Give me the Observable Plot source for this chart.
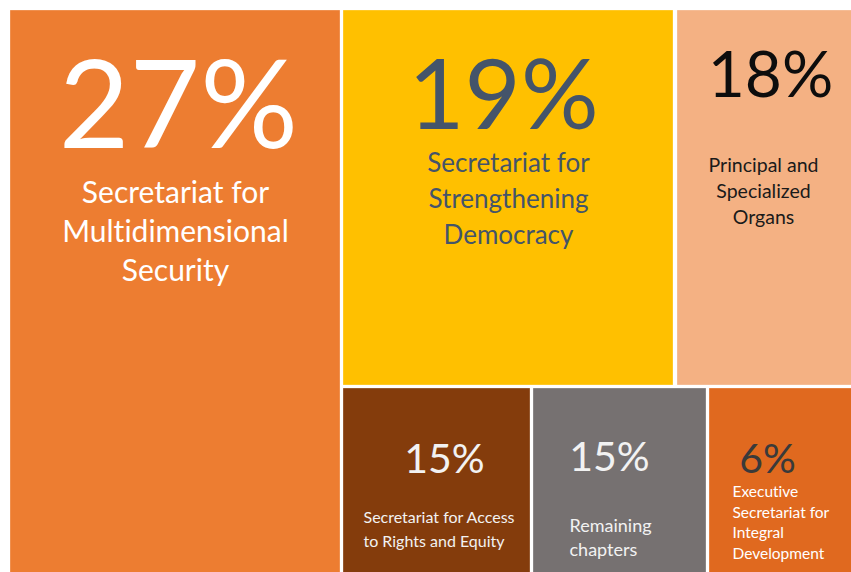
<!DOCTYPE html>
<html>
<head>
<meta charset="utf-8">
<script src="https://cdn.jsdelivr.net/npm/d3@7"></script>
<script src="https://cdn.jsdelivr.net/npm/@observablehq/plot@0.6"></script>
<style>
  html, body { margin: 0; padding: 0; background: #ffffff; }
  #chart svg { display: block; }
  #chart svg text { font-variant-ligatures: none; font-feature-settings: "liga" 0, "clig" 0; }
</style>
</head>
<body>
<div id="chart"></div>
<script>
// ---- data ----
const categories = [
  "Secretariat for Multidimensional Security",
  "Secretariat for Strengthening Democracy",
  "Principal and Specialized Organs",
  "Secretariat for Access to Rights and Equity",
  "Remaining chapters",
  "Executive Secretariat for Integral Development"
];
const shares = [27, 19, 18, 15, 15, 6];
const labelText = [
  "Secretariat for\nMultidimensional\nSecurity",
  "Secretariat for\nStrengthening\nDemocracy",
  "Principal and\nSpecialized\nOrgans",
  "Secretariat for Access\nto Rights and Equity",
  "Remaining\nchapters",
  "Executive\nSecretariat for\nIntegral\nDevelopment"
];

// ---- styles (kept apart from data) ----
const tileColors = ["#ED7D31", "#FFC000", "#F4B183", "#843C0C", "#767171", "#E0691F"];
const pctColors  = ["#FFFFFF", "#44546A", "#0D0D0D", "#F2F2F2", "#F2F2F2", "#3A3A3A"];
const labColors  = ["#FFFFFF", "#44546A", "#1A1A1A", "#F2F2F2", "#F2F2F2", "#FFFFFF"];

// ---- layout of the (cropped) treemap view, in chart units ----
// each tile: [x1, y1, x2, y2]
const tileBox = [
  [10, 10, 340, 600],
  [343, 10, 673, 385],
  [677, 10, 900, 385],
  [343, 388, 530, 600],
  [533, 388, 706, 600],
  [709, 388, 900, 600]
];
// percentage text: [x, baseline, fontSize]
const pctPos = [
  [178, 147, 122],
  [503, 128, 97],
  [770, 96, 64],
  [444, 472, 41],
  [609, 470, 41],
  [767, 472, 41]
];
// label text: [x, last baseline, fontSize, lineHeight(em), anchor]
const labPos = [
  [175, 280, 30, 1.3, "middle"],
  [508, 243, 26, 1.37, "middle"],
  [763, 223, 19.5, 1.33, "middle"],
  [363, 546, 16, 1.44, "start"],
  [569, 555, 18, 1.33, "start"],
  [732, 558, 15.5, 1.32, "start"]
];

const tiles = categories.map((name, i) => ({
  name, share: shares[i], label: labelText[i],
  x1: tileBox[i][0], y1: tileBox[i][1], x2: tileBox[i][2], y2: tileBox[i][3],
  fill: tileColors[i]
}));

const font = "Lato, 'Open Sans', sans-serif";

const marks = [
  Plot.rect(tiles, {x1: "x1", x2: "x2", y1: "y1", y2: "y2", fill: "fill", stroke: "#ffffff", strokeOpacity: 0.6, strokeWidth: 0.5})
];

tiles.forEach((t, i) => {
  const [px, py, ps] = pctPos[i];
  marks.push(Plot.text([t], {
    x: () => px, y: () => py, text: d => `${d.share}%`,
    fill: pctColors[i], fontSize: ps, fontFamily: font,
    textAnchor: "middle", lineAnchor: "bottom"
  }));
  const [lx, ly, ls, lh, anchor] = labPos[i];
  marks.push(Plot.text([t], {
    x: () => lx, y: () => ly, text: "label",
    fill: labColors[i], fontSize: ls, fontFamily: font,
    textAnchor: anchor, lineAnchor: "bottom", lineHeight: lh
  }));
});

const chart = Plot.plot({
  width: 851,
  height: 572,
  margin: 0,
  style: {background: "#ffffff", fontFamily: font},
  x: {type: "linear", domain: [0, 851], range: [0, 851], axis: null},
  y: {type: "linear", domain: [0, 572], range: [0, 572], axis: null},
  marks
});
document.getElementById("chart").appendChild(chart);
</script>
</body>
</html>
